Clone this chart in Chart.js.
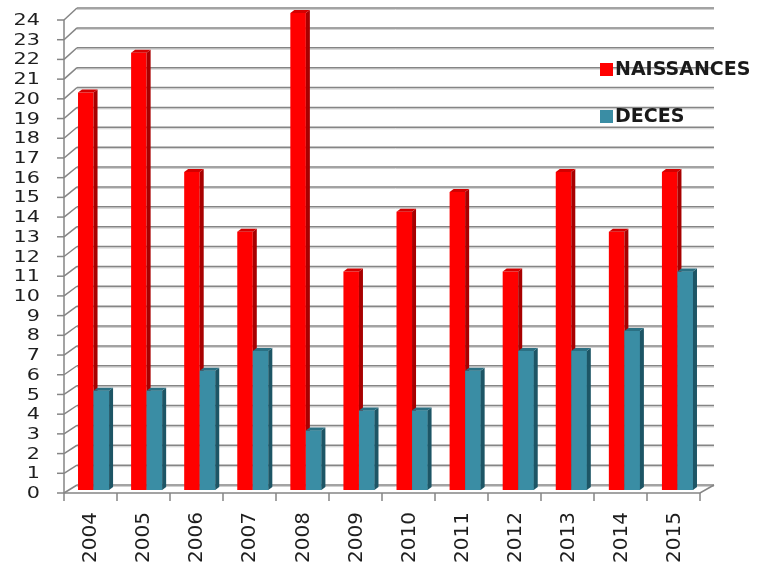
<!DOCTYPE html>
<html>
<head>
<meta charset="utf-8">
<title>Naissances et décès</title>
<script src="https://cdn.jsdelivr.net/npm/chart.js@4.4.1/dist/chart.umd.min.js"></script>
<style>
    body { margin: 0; background: #fff; }
    canvas { display: block; }
</style>
</head>
<body>
<canvas id="naissChart" width="771" height="569"></canvas>
<script>
const years = ['2004', '2005', '2006', '2007', '2008', '2009', '2010', '2011', '2012', '2013', '2014', '2015'];
const naissances = [20, 22, 16, 13, 24, 11, 14, 15, 11, 16, 13, 16];
const deces = [5, 5, 6, 7, 3, 4, 4, 6, 7, 7, 8, 11];
const yTicks = [0, 1, 2, 3, 4, 5, 6, 7, 8, 9, 10, 11, 12, 13, 14, 15, 16, 17, 18, 19, 20, 21, 22, 23, 24];

// faces sombres pour l'effet 3D des colonnes
const shades = {
    '#ff0000': { side: '#a80000', top: '#d40000' },
    '#3a8da4': { side: '#1d5565', top: '#2b7083' }
};

// dessine les murs, la grille, les axes et la légende autour des colonnes
const frame3d = {
    id: 'frame3d',
    beforeDraw(chart) {
        const c = chart.ctx;
        c.save();
        c.fillStyle = '#fff';
        c.fillRect(0, 0, chart.width, chart.height);
        c.restore();
    },
    beforeDatasetsDraw(chart) {
        const c = chart.ctx;
        const ys = chart.scales.y;
        const area = chart.chartArea;
        const y24 = ys.getPixelForValue(24);
        const y0 = ys.getPixelForValue(0);
        const front = v => 20 + (ys.getPixelForValue(v) - y24) * (473 / (y0 - y24));
        const back = v => ys.getPixelForValue(v) - 5;
        const fl = area.left - 3, fr = area.right - 4;
        const bl = 77, br = 714;

        c.save();
        // lignes de la grille sur le mur du fond
        yTicks.forEach(v => {
            const yb = back(v);
            c.strokeStyle = '#cfcfcf';
            c.lineWidth = 1;
            c.beginPath(); c.moveTo(bl, yb + 1.5); c.lineTo(br, yb + 1.5); c.stroke();
            c.strokeStyle = '#858585';
            c.lineWidth = 1.5;
            c.beginPath(); c.moveTo(bl, yb); c.lineTo(br, yb); c.stroke();
            // raccord oblique depuis l'axe avant
            c.beginPath(); c.moveTo(fl, front(v)); c.lineTo(bl, yb); c.stroke();
            // graduation
            c.beginPath(); c.moveTo(fl - 7, front(v)); c.lineTo(fl, front(v)); c.stroke();
        });
        // axe vertical avant
        c.beginPath(); c.moveTo(fl, front(24)); c.lineTo(fl, front(0)); c.stroke();
        // sol : bord avant et côté droit
        const yf0 = front(0);
        c.beginPath(); c.moveTo(fl, yf0); c.lineTo(fr, yf0); c.lineTo(br, back(0)); c.stroke();
        const step = (fr - fl) / years.length;
        for (let i = 0; i <= years.length; i++) {
            const x = fl + i * step;
            c.beginPath(); c.moveTo(x, yf0); c.lineTo(x, yf0 + 8); c.stroke();
        }
        c.restore();
    },
    afterDatasetsDraw(chart) {
        const c = chart.ctx;
        const ys = chart.scales.y;
        const xs = chart.scales.x;
        const y24 = ys.getPixelForValue(24);
        const y0 = ys.getPixelForValue(0);
        const front = v => 20 + (ys.getPixelForValue(v) - y24) * (473 / (y0 - y24));
        const d = 4, dy = 3;

        c.save();
        // faces latérales et dessus, de gauche à droite dans chaque groupe
        chart.data.datasets.forEach((ds, i) => {
            const sh = shades[ds.backgroundColor];
            chart.getDatasetMeta(i).data.forEach(bar => {
                if (i > 0) bar.draw(c);
                const p = bar.getProps(['x', 'y', 'base', 'width'], true);
                const l = p.x - p.width / 2, r = p.x + p.width / 2;
                c.fillStyle = sh.side;
                c.beginPath();
                c.moveTo(r, p.y); c.lineTo(r + d, p.y - dy);
                c.lineTo(r + d, p.base - dy); c.lineTo(r, p.base);
                c.closePath(); c.fill();
                c.fillStyle = sh.top;
                c.beginPath();
                c.moveTo(l, p.y); c.lineTo(l + d, p.y - dy);
                c.lineTo(r + d, p.y - dy); c.lineTo(r, p.y);
                c.closePath(); c.fill();
            });
        });

        c.fillStyle = '#1e1e1e';
        // étiquettes de l'axe des valeurs
        c.font = '17px "DejaVu Sans"';
        c.textAlign = 'right';
        c.textBaseline = 'middle';
        yTicks.forEach(v => {
            c.save();
            c.translate(40, front(v) + 1);
            c.scale(1.22, 0.92);
            c.fillText(String(v), 0, 0);
            c.restore();
        });
        // années, texte vertical
        c.font = '20px "DejaVu Sans"';
        years.forEach((yr, i) => {
            c.save();
            c.translate(xs.getPixelForValue(i) - 3.5, 512);
            c.rotate(-Math.PI / 2);
            c.textAlign = 'right';
            c.fillText(yr, 0, 1);
            c.restore();
        });
        // légende
        c.font = 'bold 19px "DejaVu Sans"';
        c.textAlign = 'left';
        chart.data.datasets.forEach((ds, i) => {
            const top = [63, 110][i];
            c.fillStyle = ds.backgroundColor;
            c.fillRect(600, top, 13, 13);
            c.fillStyle = '#1a1a1a';
            c.fillText(ds.label, 615, top + 7.5);
        });
        c.restore();
    }
};

new Chart(document.getElementById('naissChart').getContext('2d'), {
    type: 'bar',
    data: {
        labels: years,
        datasets: [{
            label: 'NAISSANCES',
            data: naissances,
            backgroundColor: '#ff0000'
        }, {
            label: 'DECES',
            data: deces,
            backgroundColor: '#3a8da4'
        }]
    },
    options: {
        responsive: false,
        animation: false,
        devicePixelRatio: 1,
        layout: { padding: { left: 67, right: 67, top: 13, bottom: 79 } },
        datasets: {
            bar: { categoryPercentage: 0.585, barPercentage: 1 }
        },
        scales: {
            x: { display: false },
            y: { display: false, min: 0, max: 24 }
        },
        plugins: {
            legend: { display: false },
            tooltip: { enabled: false }
        }
    },
    plugins: [frame3d]
});
</script>
</body>
</html>
